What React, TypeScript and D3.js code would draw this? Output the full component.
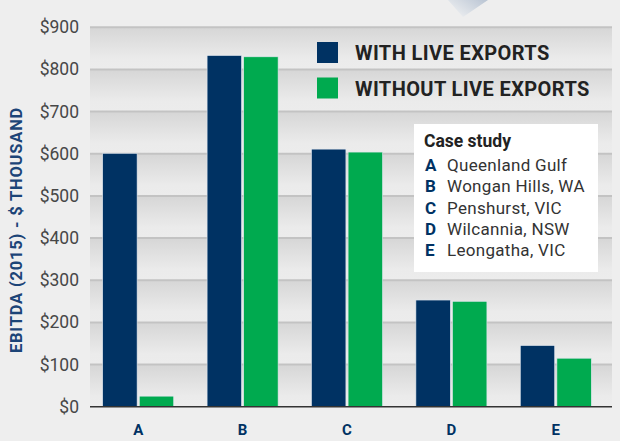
import React from "react";
import * as d3 from "d3";

const categories = ["A", "B", "C", "D", "E"];
const seriesNames = ["WITH LIVE EXPORTS", "WITHOUT LIVE EXPORTS"];
const withLive = [601, 833, 611, 253, 145];
const withoutLive = [25, 830, 604, 250, 115];
const yTicks = [0, 100, 200, 300, 400, 500, 600, 700, 800, 900];
const caseStudies = [
  ["A", "Queenland Gulf"],
  ["B", "Wongan Hills, WA"],
  ["C", "Penshurst, VIC"],
  ["D", "Wilcannia, NSW"],
  ["E", "Leongatha, VIC"],
];

const NAVY = "#003263";
const GREEN = "#00aa4f";
const FONT = "Roboto, 'DejaVu Sans', sans-serif";

export default function App() {
  const W = 620, H = 441;
  const plotL = 90, plotR = 612;
  const y = d3.scaleLinear().domain([0, 900]).range([406.7, 27.3]);
  const x0 = d3.scaleBand<string>().domain(categories).range([86, 608]);
  const groupW = 71;
  const x1 = d3.scaleBand<string>().domain(seriesNames).range([0, groupW]).paddingInner(0.06);
  const colors = [NAVY, GREEN];
  const data = [withLive, withoutLive];

  const bands = yTicks.slice(0, -1).map((t, i) => ({ top: y(yTicks[i + 1]), bottom: y(t) }));

  return (
    <svg width={W} height={H} style={{ position: "absolute", left: 0, top: 0 }} fontFamily={FONT}>
      <defs>
        <linearGradient id="band" x1="0" y1="0" x2="0" y2="1">
          <stop offset="0" stopColor="#d6d6d6" />
          <stop offset="0.75" stopColor="#ebebeb" />
          <stop offset="1" stopColor="#ececec" />
        </linearGradient>
        <linearGradient id="tri" x1="1" y1="0" x2="0" y2="0.6">
          <stop offset="0" stopColor="#b9c4d3" />
          <stop offset="1" stopColor="#eceef0" />
        </linearGradient>
      </defs>
      <rect x={0} y={0} width={W} height={H} fill="#eeeeee" />
      <polygon points="448,0 488,0 463,17" fill="url(#tri)" />
      {bands.map((b, i) => (
        <rect key={i} x={plotL} y={b.top} width={plotR - plotL} height={b.bottom - b.top} fill="url(#band)" />
      ))}
      {yTicks.slice(1).map((t) => (
        <line key={t} x1={plotL} x2={plotR} y1={y(t)} y2={y(t)} stroke="#c3c3c3" strokeWidth={2} />
      ))}
      {yTicks.map((t) => (
        <text key={t} x={79} y={y(t) + 6} textAnchor="end" fontSize={17.5} fill="#474747">
          {"$" + t}
        </text>
      ))}
      <text
        transform={`translate(22,230) rotate(-90)`}
        textAnchor="middle"
        fontSize={16.5}
        letterSpacing={0.8}
        fontWeight="bold"
        fill="#1c4477"
      >
        EBITDA (2015) - $ THOUSAND
      </text>
      {/* legend */}
      {seriesNames.map((s, i) => (
        <g key={s}>
          <rect x={317} y={42 + i * 35.5} width={21} height={21} fill={colors[i]} />
          <text x={355} y={60 + i * 35.5} fontSize={20} letterSpacing={0.4} fontWeight="bold" fill="#222">
            {s}
          </text>
        </g>
      ))}
      {/* case study box */}
      <rect x={414} y={124} width={184} height={148} fill="#ffffff" />
      <text x={424} y={147} fontSize={17.5} fontWeight="bold" fill="#222">Case study</text>
      {caseStudies.map(([k, v], i) => (
        <g key={k}>
          <text x={425} y={171 + i * 21.3} fontSize={17} fontWeight="bold" fill={NAVY}>{k}</text>
          <text x={447} y={171 + i * 21.3} fontSize={17} letterSpacing={0.3} fill="#333">{v}</text>
        </g>
      ))}
      {/* bars */}
      {categories.map((c, ci) => {
        const gx = (x0(c) as number) + x0.bandwidth() / 2 - groupW / 2;
        return (
          <g key={c}>
            {seriesNames.map((s, si) => {
              const v = data[si][ci];
              return (
                <rect
                  key={s}
                  x={gx + (x1(s) as number)}
                  y={y(v)}
                  width={x1.bandwidth()}
                  height={y(0) - y(v)}
                  fill={colors[si]}
                  stroke="#dfe6ee"
                  strokeWidth={0.6}
                />
              );
            })}
            <text
              x={(x0(c) as number) + x0.bandwidth() / 2}
              y={435}
              textAnchor="middle"
              fontSize={15}
              fontWeight="bold"
              fill={NAVY}
            >
              {c}
            </text>
          </g>
        );
      })}
      <line x1={plotL} x2={plotR} y1={y(0)} y2={y(0)} stroke="#333" strokeWidth={1.5} />
    </svg>
  );
}
